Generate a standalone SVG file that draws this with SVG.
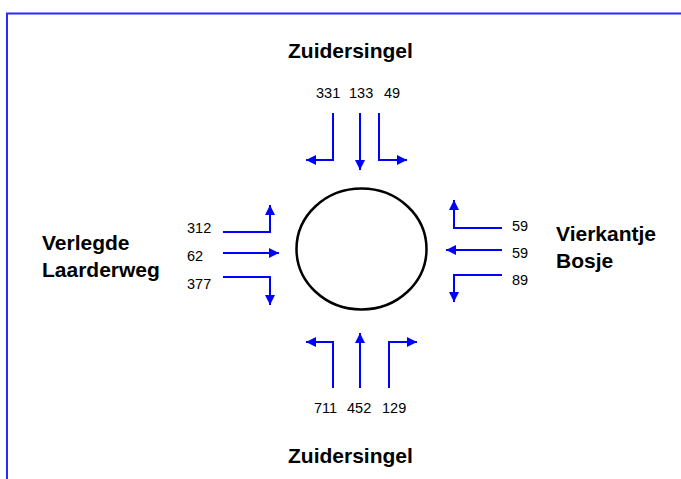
<svg xmlns="http://www.w3.org/2000/svg" width="681" height="479" viewBox="0 0 681 479">
<style>
.num{font-family:"Liberation Sans",Arial,sans-serif;font-size:14.5px;fill:#000}
.ttl{font-family:"Liberation Sans",Arial,sans-serif;font-size:21px;font-weight:bold;fill:#000}
.arr{fill:none;stroke:#0000ff;stroke-width:2;marker-end:url(#ah)}
</style>
<defs>
<marker id="ah" viewBox="0 0 10 10" refX="10" refY="5" markerWidth="10" markerHeight="10" markerUnits="userSpaceOnUse" orient="auto">
<path d="M0,0 L10,5 L0,10 z" fill="#0000ff"/>
</marker>
</defs>
<rect width="681" height="479" fill="#fff"/>
<g id="frame"><path d="M7,479 V13.5 H681" fill="none" stroke="#2a2aff" stroke-width="2"/></g>
<g id="roundabout"><ellipse cx="361.5" cy="249" rx="65" ry="60.5" fill="none" stroke="#000" stroke-width="2.5"/></g>
<g id="connectors">
<path class="arr" d="M333,113 V160 H306"/>
<path class="arr" d="M360,113 V170"/>
<path class="arr" d="M379,113 V160 H407"/>
<path class="arr" d="M223,232 H270 V205"/>
<path class="arr" d="M223,253 H279"/>
<path class="arr" d="M223,277 H270 V305"/>
<path class="arr" d="M502,228 H454 V200"/>
<path class="arr" d="M502,250 H446"/>
<path class="arr" d="M502,275 H454 V302"/>
<path class="arr" d="M333,388 V342 H306"/>
<path class="arr" d="M360,388 V333"/>
<path class="arr" d="M389,388 V342 H417"/>
</g>
<g id="north">
<text class="ttl" x="288" y="58">Zuidersingel</text>
<text class="num" x="316" y="98">331</text>
<text class="num" x="349" y="98">133</text>
<text class="num" x="384" y="98">49</text>
</g>
<g id="west">
<text class="ttl" x="42" y="250">Verlegde</text>
<text class="ttl" x="42" y="277">Laarderweg</text>
<text class="num" x="187" y="233">312</text>
<text class="num" x="187" y="261">62</text>
<text class="num" x="187" y="289">377</text>
</g>
<g id="east">
<text class="ttl" x="556" y="241">Vierkantje</text>
<text class="ttl" x="556" y="268">Bosje</text>
<text class="num" x="512" y="231">59</text>
<text class="num" x="512" y="258">59</text>
<text class="num" x="512" y="285">89</text>
</g>
<g id="south">
<text class="ttl" x="288" y="463">Zuidersingel</text>
<text class="num" x="314" y="413">711</text>
<text class="num" x="347" y="413">452</text>
<text class="num" x="382" y="413">129</text>
</g>
</svg>
